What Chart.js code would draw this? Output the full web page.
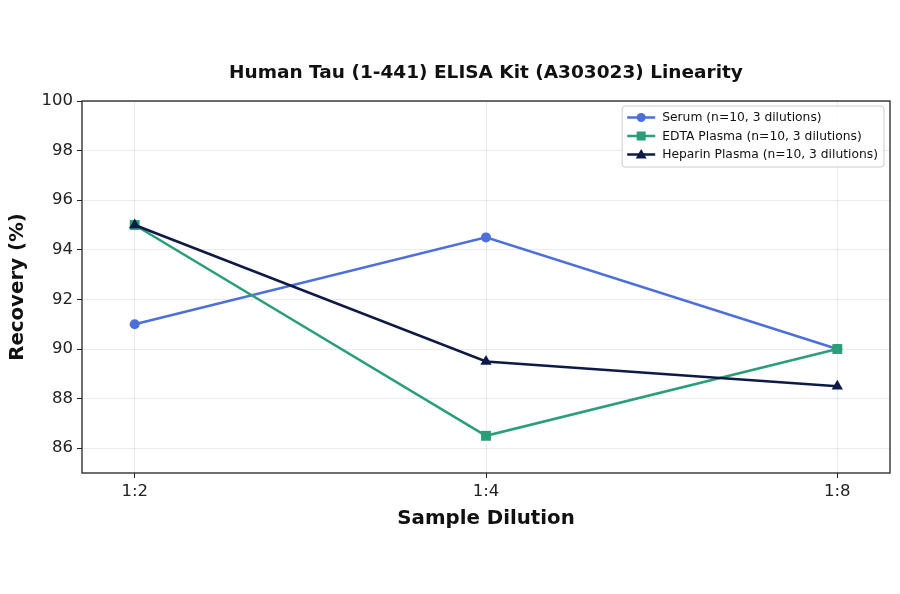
<!DOCTYPE html>
<html>
<head>
<meta charset="utf-8">
<script src="https://cdn.jsdelivr.net/npm/chart.js@4"></script>
<style>
  html, body { margin: 0; padding: 0; background: #fff; }
  #wrap { width: 900px; height: 594px; }
</style>
</head>
<body>
<div id="wrap"><canvas id="chart" width="900" height="594"></canvas></div>
<script>
// data
const dilutions = ['1:2', '1:4', '1:8'];
const serum = [91, 94.5, 90];
const edtaPlasma = [95, 86.5, 90];
const heparinPlasma = [95, 89.5, 88.5];
const yTicks = [86, 88, 90, 92, 94, 96, 98, 100];

const FONT = "'DejaVu Sans', sans-serif";

function toPoints(values) {
    return values.map((v, i) => ({ x: i, y: v }));
}

// frame + title centred over the plot, like matplotlib
const framePlugin = {
    id: 'frame',
    afterDraw(chart) {
        const { ctx, chartArea: a } = chart;
        ctx.save();
        ctx.strokeStyle = '#222';
        ctx.lineWidth = 1.3;
        ctx.strokeRect(a.left, a.top, a.right - a.left, a.bottom - a.top);
        ctx.fillStyle = '#111';
        ctx.font = 'bold 18.5px ' + FONT;
        ctx.textAlign = 'center';
        ctx.textBaseline = 'middle';
        ctx.fillText('Human Tau (1-441) ELISA Kit (A303023) Linearity', (a.left + a.right) / 2, 73);
        ctx.restore();
    }
};

// legend box in the upper right corner
const legendPlugin = {
    id: 'boxLegend',
    afterDraw(chart) {
        const { ctx, chartArea: a } = chart;
        const sets = chart.data.datasets;
        ctx.save();
        ctx.font = '12.3px ' + FONT;
        let w = 0;
        sets.forEach(d => { w = Math.max(w, ctx.measureText(d.label).width); });
        const boxW = w + 46, boxH = 61;
        const x0 = a.right - 6 - boxW, y0 = a.top + 5;
        ctx.fillStyle = 'rgba(255,255,255,0.85)';
        ctx.strokeStyle = '#ccc';
        ctx.lineWidth = 1;
        ctx.beginPath();
        ctx.roundRect(x0, y0, boxW, boxH, 3);
        ctx.fill();
        ctx.stroke();
        sets.forEach((d, i) => {
            const cy = y0 + 11.5 + i * 18.5;
            ctx.strokeStyle = d.borderColor;
            ctx.lineWidth = 2.5;
            ctx.beginPath();
            ctx.moveTo(x0 + 5, cy);
            ctx.lineTo(x0 + 33, cy);
            ctx.stroke();
            ctx.fillStyle = d.borderColor;
            const mx = x0 + 19, r = 4.5;
            ctx.beginPath();
            if (d.pointStyle === 'circle') {
                ctx.arc(mx, cy, r, 0, Math.PI * 2);
            } else if (d.pointStyle === 'rect') {
                ctx.rect(mx - r, cy - r, 2 * r, 2 * r);
            } else {
                ctx.moveTo(mx, cy - r - 1);
                ctx.lineTo(mx + r + 1, cy + r - 0.5);
                ctx.lineTo(mx - r - 1, cy + r - 0.5);
                ctx.closePath();
            }
            ctx.fill();
            ctx.fillStyle = '#111';
            ctx.textAlign = 'left';
            ctx.textBaseline = 'middle';
            ctx.fillText(d.label, x0 + 40, cy + 0.5);
        });
        ctx.restore();
    }
};

const gridStyle = {
    color: 'rgba(0,0,0,0.08)',
    tickColor: '#222',
    tickLength: 5,
    tickBorderDash: [],
    borderDash: [3, 2]
};

const ctx = document.getElementById('chart').getContext('2d');
new Chart(ctx, {
    type: 'line',
    data: {
        datasets: [
            {
                label: 'Serum (n=10, 3 dilutions)',
                data: toPoints(serum),
                borderColor: '#4D6FD9',
                backgroundColor: '#4D6FD9',
                pointStyle: 'circle',
                pointRadius: 5,
                pointBorderWidth: 0,
                borderWidth: 2.5,
                order: 3
            },
            {
                label: 'EDTA Plasma (n=10, 3 dilutions)',
                data: toPoints(edtaPlasma),
                borderColor: '#2A9E78',
                backgroundColor: '#2A9E78',
                pointStyle: 'rect',
                pointRadius: 7,
                pointBorderWidth: 0,
                borderWidth: 2.5,
                order: 2
            },
            {
                label: 'Heparin Plasma (n=10, 3 dilutions)',
                data: toPoints(heparinPlasma),
                borderColor: '#0E1A45',
                backgroundColor: '#0E1A45',
                pointStyle: 'triangle',
                pointRadius: 6.5,
                pointBorderWidth: 0,
                borderWidth: 2.5,
                order: 1
            }
        ]
    },
    options: {
        responsive: false,
        animation: false,
        layout: { padding: { top: 101, left: 6, right: 10, bottom: 63 } },
        plugins: {
            legend: { display: false },
            tooltip: { enabled: false }
        },
        scales: {
            x: {
                type: 'linear',
                min: -0.15,
                max: 2.15,
                afterBuildTicks: axis => { axis.ticks = dilutions.map((_, i) => ({ value: i })); },
                afterFit: axis => { axis.height = 58; },
                ticks: {
                    color: '#222',
                    font: { family: FONT, size: 16.5 },
                    padding: 4,
                    callback: v => dilutions[v]
                },
                grid: gridStyle,
                border: { display: false },
                title: {
                    display: true,
                    text: 'Sample Dilution',
                    color: '#111',
                    font: { family: FONT, size: 19.8, weight: 'bold' },
                    padding: 0
                }
            },
            y: {
                min: 85,
                max: 100,
                afterBuildTicks: axis => { axis.ticks = yTicks.map(v => ({ value: v })); },
                afterFit: axis => { axis.width = 76; },
                ticks: {
                    color: '#222',
                    font: { family: FONT, size: 16.5 },
                    padding: 4
                },
                grid: gridStyle,
                border: { display: false },
                title: {
                    display: true,
                    text: 'Recovery (%)',
                    color: '#111',
                    font: { family: FONT, size: 19.8, weight: 'bold' },
                    padding: 0
                }
            }
        }
    },
    plugins: [framePlugin, legendPlugin]
});
</script>
</body>
</html>
